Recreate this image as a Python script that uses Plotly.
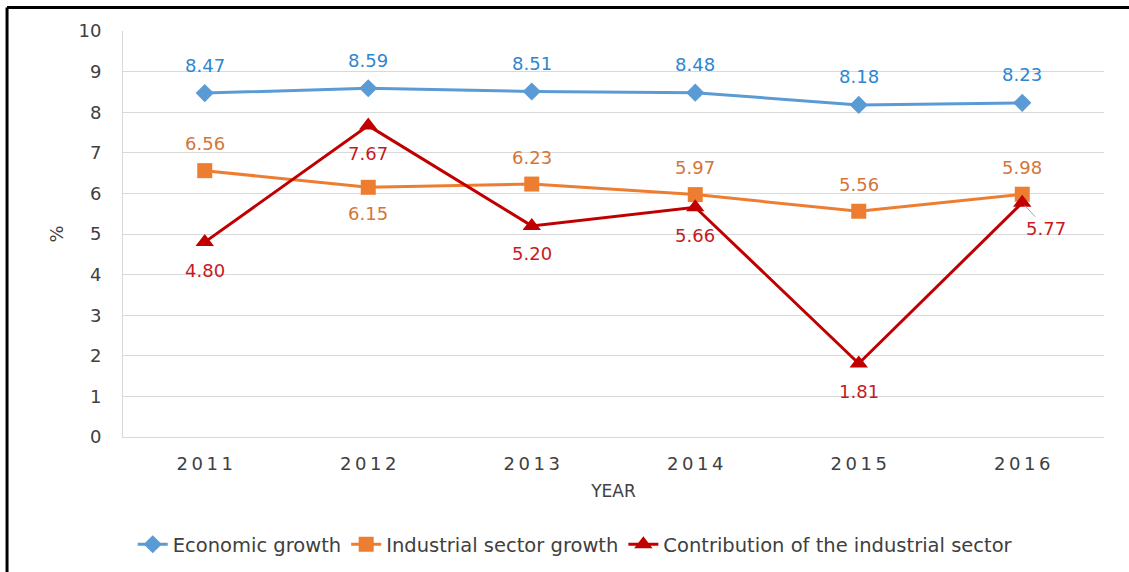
import plotly.graph_objects as go

years = [2011, 2012, 2013, 2014, 2015, 2016]
year_labels = ["2\u20090\u20091\u20091", "2\u20090\u20091\u20092", "2\u20090\u20091\u20093",
               "2\u20090\u20091\u20094", "2\u20090\u20091\u20095", "2\u20090\u20091\u20096"]
economic = [8.47, 8.59, 8.51, 8.48, 8.18, 8.23]
industrial = [6.56, 6.15, 6.23, 5.97, 5.56, 5.98]
contribution = [4.80, 7.67, 5.20, 5.66, 1.81, 5.77]

# label placement: +1 above, -1 below
orange_pos = [1, -1, 1, 1, 1, 1]

FONT = "DejaVu Sans"
C_BLUE, C_ORANGE, C_RED = "#5B9BD5", "#ED7D31", "#C00000"
L_BLUE, L_ORANGE, L_RED = "#2E86D1", "#D4753A", "#C8191F"
LBL = 18

fig = go.Figure()
fig.add_trace(go.Scatter(x=years, y=economic, name="Economic growth", mode="lines+markers",
                         line=dict(color=C_BLUE, width=3),
                         marker=dict(symbol="diamond", size=14, color=C_BLUE)))
fig.add_trace(go.Scatter(x=years, y=industrial, name="Industrial sector growth", mode="lines+markers",
                         line=dict(color=C_ORANGE, width=3),
                         marker=dict(symbol="square", size=15, color=C_ORANGE)))
fig.add_trace(go.Scatter(x=years, y=contribution, name="Contribution of the industrial sector",
                         mode="lines+markers",
                         line=dict(color=C_RED, width=3),
                         marker=dict(symbol="triangle-up", size=16, color=C_RED)))

ann = []
for x, v in zip(years, economic):
    ann.append(dict(x=x, y=v, text=f"{v:.2f}", showarrow=False, yshift=28,
                    font=dict(color=L_BLUE, size=LBL, family=FONT)))
for x, v, p in zip(years, industrial, orange_pos):
    ann.append(dict(x=x, y=v, text=f"{v:.2f}", showarrow=False, yshift=27 if p > 0 else -26,
                    font=dict(color=L_ORANGE, size=LBL, family=FONT)))
for i, (x, v) in enumerate(zip(years, contribution)):
    if i == len(years) - 1:
        ann.append(dict(x=x, y=v, text=f"{v:.2f}", showarrow=True, arrowhead=0,
                        arrowwidth=1, arrowcolor="#A6A6A6", ax=24, ay=26, standoff=4,
                        font=dict(color=L_RED, size=LBL, family=FONT)))
    else:
        ann.append(dict(x=x, y=v, text=f"{v:.2f}", showarrow=False, yshift=-28,
                        font=dict(color=L_RED, size=LBL, family=FONT)))

# outer frame (left and top borders)
shapes = [
    dict(type="line", xref="paper", yref="paper", x0=-0.1182, x1=1.03, y0=1.058, y1=1.058,
         line=dict(color="black", width=3)),
    dict(type="line", xref="paper", yref="paper", x0=-0.1182, x1=-0.1182, y0=1.058, y1=-0.34,
         line=dict(color="black", width=3)),
]

fig.update_layout(
    width=1129, height=572,
    margin=dict(l=123, r=25, t=31, b=135, autoexpand=False),
    paper_bgcolor="white", plot_bgcolor="white",
    font=dict(family=FONT, color="#404040", size=18),
    annotations=ann, shapes=shapes,
    showlegend=True,
    legend=dict(orientation="h", x=0.461, xanchor="center", y=-0.265, yanchor="middle",
                font=dict(size=19.5, color="#404040"), tracegroupgap=0),
    xaxis=dict(tickmode="array", tickvals=years, ticktext=year_labels,
               range=[2010.5, 2016.5],
               tickangle=0, automargin=False,
               showgrid=False, showline=True, linecolor="#D9D9D9", linewidth=1,
               ticks="", ticklabelstandoff=10, zeroline=False,
               title=dict(text="YEAR", font=dict(size=17, color="#404040"), standoff=12),
               tickfont=dict(size=18, color="#404040")),
    yaxis=dict(range=[0, 10], dtick=1, showgrid=True, gridcolor="#D9D9D9", gridwidth=1,
               automargin=False,
               showline=True, linecolor="#D9D9D9", linewidth=1, zeroline=False,
               ticks="", ticklabelstandoff=17,
               title=dict(text="%", font=dict(size=18, color="#404040"), standoff=10),
               tickfont=dict(size=18, color="#404040")),
)

fig.write_html("out.html", config={"displayModeBar": False},
               post_script="document.body.style.margin='0px';")
